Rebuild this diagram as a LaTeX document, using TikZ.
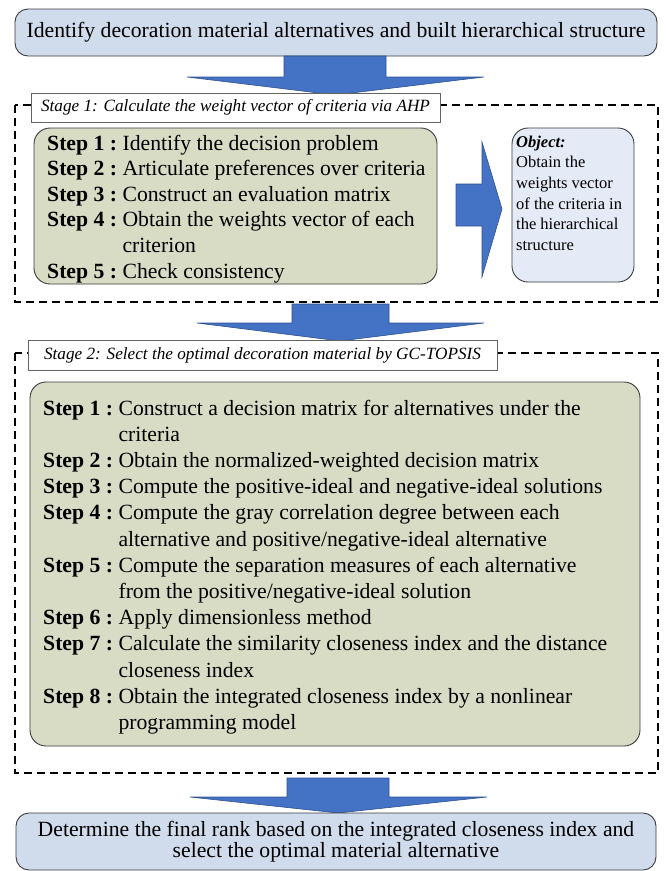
\documentclass[tikz,border=0pt]{standalone}
\usepackage{fontspec}
\setmainfont{Liberation Serif}
\usetikzlibrary{positioning}
\definecolor{topblue}{RGB}{208,219,236}
\definecolor{boxedge}{RGB}{60,60,60}
\definecolor{stepgreen}{RGB}{216,220,197}
\definecolor{objblue}{RGB}{228,234,246}
\definecolor{arrowblue}{RGB}{68,114,196}
\definecolor{arrowedge}{RGB}{47,82,143}
\begin{document}
\begin{tikzpicture}[x=1pt,y=-1pt,
  bluebox/.style={draw=boxedge, line width=0.9pt, fill=topblue, rounded corners=13pt, inner sep=0pt},
  greenbox/.style={draw=boxedge, line width=0.9pt, fill=stepgreen, rounded corners=16pt},
  objbox/.style={draw=boxedge, line width=0.9pt, fill=objblue, rounded corners=16pt},
  stagebox/.style={draw=boxedge!80, line width=0.7pt, fill=white, inner sep=0pt},
  stageframe/.style={draw=black, line width=2.2pt, dash pattern=on 8pt off 5pt},
  blockarrow/.style={fill=arrowblue, draw=arrowedge, line width=0.6pt, line join=miter},
  steptext/.style={inner sep=0pt, anchor=base west},
]
\useasboundingbox (0,0) rectangle (665,871);

% top box
\draw[bluebox] (15,9) rectangle (657,56);
\node[inner sep=0pt, font=\fontsize{21.7}{26}\selectfont] (top) at (336,32.5) {Identify decoration material alternatives and built hierarchical structure};

% arrow 1
\draw[blockarrow] (284,56) -- (386,56) -- (386,77) -- (484,77) -- (335,95) -- (187,77) -- (284,77) -- cycle;

% stage 1 frame
\draw[stageframe] (15,105) rectangle (658,302);
\draw[stagebox] (31,93) rectangle (440,122);
\node[inner sep=0pt, font=\fontsize{17.2}{20}\selectfont\itshape] (s1label) at (235.5,107.5) {Stage 1: Calculate the weight vector of criteria via AHP};

% stage 1 steps
\draw[greenbox] (34,128) rectangle (437,284);
\node[steptext, font=\fontsize{21.7}{25.6}\selectfont] (s1steps) at (47,150) {%
\begin{tabular}[t]{@{}l@{\ }l@{}}
\textbf{Step 1 :} & Identify the decision problem\\
\textbf{Step 2 :} & Articulate preferences over criteria\\
\textbf{Step 3 :} & Construct an evaluation matrix\\
\textbf{Step 4 :} & Obtain the weights vector of each\\
 & criterion\\
\textbf{Step 5 :} & Check consistency
\end{tabular}};

% right arrow
\draw[blockarrow] (456,184) -- (482,184) -- (482,142) -- (502,209) -- (482,277) -- (482,226) -- (456,226) -- cycle;

% object box
\draw[objbox] (512,128) rectangle (634,282);
\node[steptext, font=\fontsize{16.5}{20.7}\selectfont] (obj) at (516,147) {%
\begin{tabular}[t]{@{}l@{}}
\textbf{\itshape Object:}\\
Obtain the\\
weights vector\\
of the criteria in\\
the hierarchical\\
structure
\end{tabular}};

% arrow 2
\draw[blockarrow] (292,304) -- (389,304) -- (389,323) -- (484,323) -- (340,341) -- (197,323) -- (292,323) -- cycle;

% stage 2 frame
\draw[stageframe] (15,353) rectangle (658,773);
\draw[stagebox] (28,340) rectangle (497,370);
\node[inner sep=0pt, font=\fontsize{17.2}{20}\selectfont\itshape] (s2label) at (262.5,355) {Stage 2: Select the optimal decoration material by GC-TOPSIS};

% stage 2 steps
\draw[greenbox] (30,382) rectangle (640,746);
\node[steptext, font=\fontsize{21.7}{26.2}\selectfont] (s2steps) at (43,415) {%
\begin{tabular}[t]{@{}l@{\ }l@{}}
\textbf{Step 1 :} & Construct a decision matrix for alternatives under the\\
 & criteria\\
\textbf{Step 2 :} & Obtain the normalized-weighted decision matrix\\
\textbf{Step 3 :} & Compute the positive-ideal and negative-ideal solutions\\
\textbf{Step 4 :} & Compute the gray correlation degree between each\\
 & alternative and positive/negative-ideal alternative\\
\textbf{Step 5 :} & Compute the separation measures of each alternative\\
 & from the positive/negative-ideal solution\\
\textbf{Step 6 :} & Apply dimensionless method\\
\textbf{Step 7 :} & Calculate the similarity closeness index and the distance\\
 & closeness index\\
\textbf{Step 8 :} & Obtain the integrated closeness index by a nonlinear\\
 & programming model
\end{tabular}};

% arrow 3
\draw[blockarrow] (287,778) -- (389,778) -- (389,797) -- (487,797) -- (338,813) -- (190,797) -- (287,797) -- cycle;

% bottom box
\draw[bluebox] (16,813) rectangle (656,870);
\node[inner sep=0pt, align=center, font=\fontsize{21.7}{19.5}\selectfont] (bottom) at (336,842) {Determine the final rank based on the integrated closeness index and\\ select the optimal material alternative};
\end{tikzpicture}
\end{document}
